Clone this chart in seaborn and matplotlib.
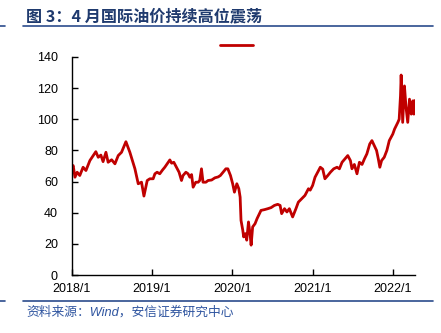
import matplotlib
matplotlib.use("Agg")
import matplotlib.pyplot as plt
from matplotlib.lines import Line2D
import pandas as pd
import seaborn as sns

# Brent crude, USD/barrel
dates = [
    "2018-01-02", "2018-01-07", "2018-01-15", "2018-01-25", "2018-02-06", "2018-02-21",
    "2018-03-06", "2018-03-24", "2018-04-20", "2018-05-01", "2018-05-13", "2018-05-23",
    "2018-06-05", "2018-06-15", "2018-07-01", "2018-07-16", "2018-07-31", "2018-08-15",
    "2018-09-04", "2018-09-22", "2018-10-15", "2018-10-30", "2018-11-14", "2018-11-25",
    "2018-12-10", "2018-12-22",
    "2019-01-06", "2019-01-14", "2019-01-24", "2019-02-05", "2019-02-18", "2019-02-28",
    "2019-03-11", "2019-03-23", "2019-03-31", "2019-04-10", "2019-04-22", "2019-05-04",
    "2019-05-15", "2019-05-22", "2019-06-04", "2019-06-14", "2019-06-22", "2019-06-30",
    "2019-07-07", "2019-07-19", "2019-07-30", "2019-08-06", "2019-08-14", "2019-08-21",
    "2019-09-03", "2019-09-13", "2019-09-29", "2019-10-14", "2019-10-29", "2019-11-08",
    "2019-11-20", "2019-12-03", "2019-12-12", "2019-12-24", "2020-01-03", "2020-01-11",
    "2020-01-22", "2020-01-31", "2020-02-06", "2020-02-10", "2020-02-18", "2020-02-22",
    "2020-03-01", "2020-03-07", "2020-03-15", "2020-03-22", "2020-03-27", "2020-04-03",
    "2020-04-14", "2020-04-23", "2020-05-04", "2020-05-11", "2020-05-27", "2020-06-11",
    "2020-06-26", "2020-07-11", "2020-07-26", "2020-08-06", "2020-08-13", "2020-08-26",
    "2020-09-06", "2020-09-17", "2020-10-02", "2020-10-17", "2020-10-28", "2020-11-12",
    "2020-11-27", "2020-12-13", "2020-12-21", "2021-01-01", "2021-01-12", "2021-01-24",
    "2021-02-05", "2021-02-16", "2021-02-26", "2021-03-11", "2021-03-23", "2021-04-07",
    "2021-04-22", "2021-05-03", "2021-05-15", "2021-05-28", "2021-06-10", "2021-06-22",
    "2021-06-29", "2021-07-10", "2021-07-22", "2021-08-02", "2021-08-14", "2021-08-25",
    "2021-09-05", "2021-09-18", "2021-09-28", "2021-10-09", "2021-10-19", "2021-10-27",
    "2021-11-03", "2021-11-11", "2021-11-23", "2021-12-05", "2021-12-16", "2021-12-24",
    "2022-01-01", "2022-01-09", "2022-01-24", "2022-01-30", "2022-02-05", "2022-02-08",
    "2022-02-12", "2022-02-15", "2022-02-23", "2022-03-02", "2022-03-10", "2022-03-18",
    "2022-03-26", "2022-04-02", "2022-04-07", "2022-04-10",
]
brent = [
    69.2, 70.3, 62.8, 66.0, 63.9, 69.2,
    67.1, 73.5, 79.2, 75.6, 77.0, 72.8,
    78.8, 72.4, 74.0, 71.4, 76.7, 78.8,
    85.6, 78.8, 68.2, 58.6, 59.6, 50.7,
    60.7, 61.8,
    61.8, 65.0, 66.0, 65.0, 67.5, 69.2,
    71.4, 73.9, 71.8, 72.4, 69.2, 66.0,
    60.7, 63.9, 66.0, 65.0, 62.8, 64.5,
    56.4, 59.6, 59.6, 60.7, 68.2, 59.6,
    59.6, 60.7, 61.0, 62.4, 63.0, 63.9,
    66.0, 68.2, 68.2, 63.9, 58.6, 53.2,
    58.6, 55.4, 50.0, 35.1, 28.8, 24.5,
    26.6, 22.4, 34.1, 26.6, 19.2, 30.9,
    33.0, 36.2, 39.4, 41.5, 42.0, 42.6,
    43.3, 44.7, 45.4, 44.7, 39.4, 42.6,
    40.5, 42.6, 37.3, 42.6, 46.8, 49.0,
    51.1, 55.4, 54.5, 57.5, 62.8, 66.0,
    69.2, 68.0, 61.8, 63.9, 66.0, 68.2,
    69.2, 68.2, 72.4, 74.6, 76.7, 73.5,
    68.2, 71.0, 65.0, 72.4, 71.0, 74.6,
    77.8, 84.1, 86.3, 83.0, 80.0, 74.6,
    69.2, 73.5, 75.6, 80.0, 86.3, 88.4,
    90.5, 93.7, 98.0, 100.0, 115.0, 128.4,
    110.0, 98.0, 121.4, 108.0, 98.0, 112.9,
    103.3, 111.8, 103.3, 112.0,
]

tick_dates = ["2018-01-01", "2019-01-01", "2020-01-01", "2021-01-01", "2022-01-01"]
tick_labels = ["2018/1", "2019/1", "2020/1", "2021/1", "2022/1"]
y_ticks = [0, 20, 40, 60, 80, 100, 120, 140]

title = "图 3：4 月国际油价持续高位震荡"
source = "资料来源：Wind，安信证券研究中心"

sns.set_style("ticks")
plt.rcParams["font.family"] = ["Liberation Sans", "Noto Sans CJK SC"]

df = pd.DataFrame({"date": pd.to_datetime(dates), "price": brent})

fig = plt.figure(figsize=(4.41, 3.33), dpi=100)
fig.patch.set_facecolor("white")
ax = fig.add_axes([0.163, 0.174, 0.778, 0.655])

sns.lineplot(data=df, x="date", y="price", ax=ax, color="#C00000",
             linewidth=2.0, legend=False)

ax.set_xlim(pd.Timestamp("2018-01-01"), pd.Timestamp("2022-04-12"))
ax.set_ylim(0, 140)
ax.set_xticks(pd.to_datetime(tick_dates))
ax.set_xticklabels(tick_labels)
ax.set_yticks(y_ticks)
ax.set_xlabel("")
ax.set_ylabel("")

for side in ("top", "right"):
    ax.spines[side].set_visible(False)
for side in ("left", "bottom"):
    ax.spines[side].set_color("black")
    ax.spines[side].set_linewidth(1.0)
ax.tick_params(axis="both", direction="in", length=4, width=1.0,
               colors="black", labelsize=9)
ax.tick_params(axis="x", pad=6)
ax.tick_params(axis="y", pad=10)

# legend: series handle only
line = ax.get_lines()[0]
fig.legend([line], [""], loc="center", bbox_to_anchor=(0.537, 0.862),
           frameon=False, handlelength=2.4, handletextpad=0, borderpad=0)

# header and footer
navy = "#1F3A6E"
fig.text(26 / 441, 1 - 16 / 333, title, fontsize=11.6, fontweight="bold",
         color=navy, va="center", ha="left",
         family=["Noto Sans CJK SC", "DejaVu Sans"])
for yy in (26, 301):
    y = 1 - yy / 333
    fig.add_artist(Line2D([23 / 441, 433 / 441], [y, y], color="#2B4C8C", lw=1.2))
    fig.add_artist(Line2D([0, 5 / 441], [y, y], color="#2B4C8C", lw=1.2))
fig.text(26 / 441, 1 - 312 / 333, source, fontsize=9.2, color="#2F55A0",
         style="italic", va="center", ha="left")

fig.savefig("out.png", dpi=100, facecolor="white")
